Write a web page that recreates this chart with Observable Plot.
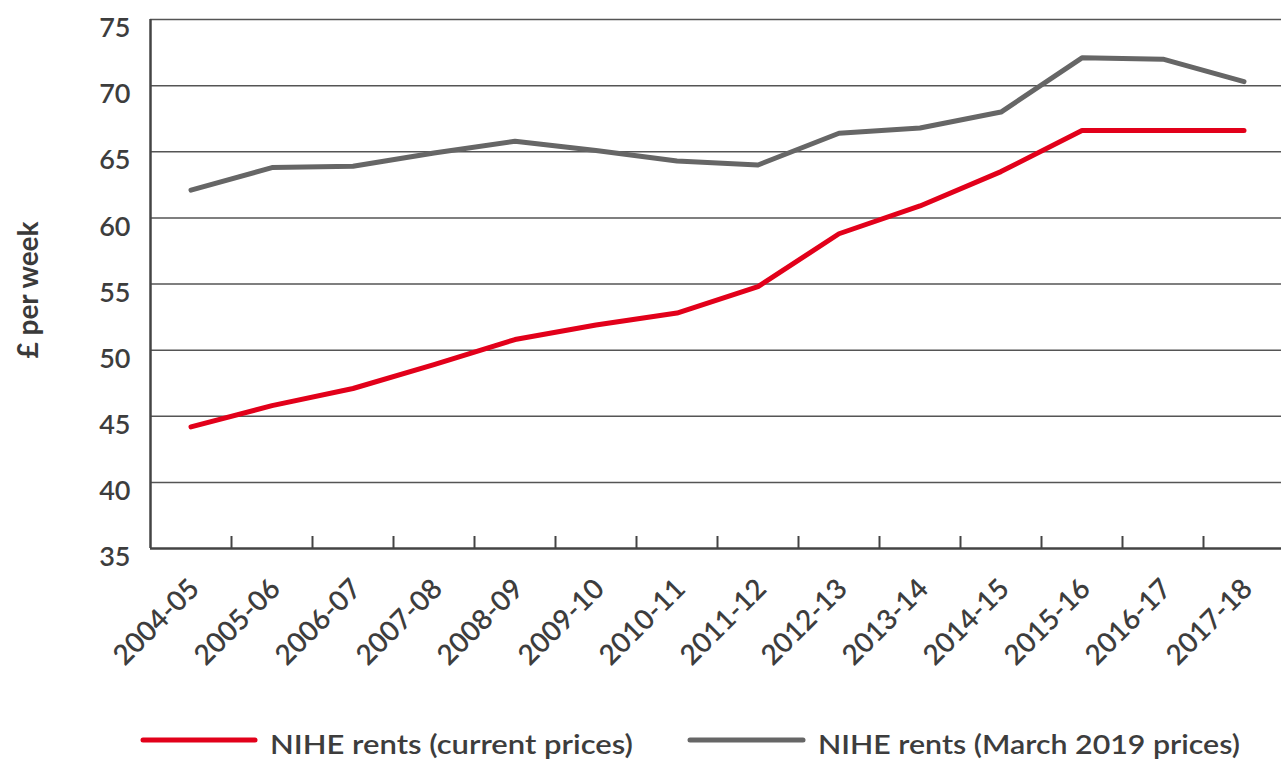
<!DOCTYPE html>
<html>
<head>
<meta charset="utf-8">
<script src="https://cdn.jsdelivr.net/npm/d3@7"></script>
<script src="https://cdn.jsdelivr.net/npm/@observablehq/plot@0.6"></script>
<style>
  html, body { margin: 0; padding: 0; background: #fff; }
  #chart svg { display: block; }
</style>
</head>
<body>
<div id="chart"></div>
<script>
const years = ["2004-05","2005-06","2006-07","2007-08","2008-09","2009-10","2010-11","2011-12","2012-13","2013-14","2014-15","2015-16","2016-17","2017-18"];
const currentPrices = [44.2, 45.8, 47.1, 48.9, 50.8, 51.9, 52.8, 54.8, 58.8, 60.9, 63.5, 66.6, 66.6, 66.6];
const march2019Prices = [62.1, 63.8, 63.9, 64.9, 65.8, 65.1, 64.3, 64.0, 66.4, 66.8, 68.0, 72.1, 72.0, 70.3];
const yTicks = [35, 40, 45, 50, 55, 60, 65, 70, 75];
const seriesNames = ["NIHE rents (current prices)", "NIHE rents (March 2019 prices)"];
const seriesColors = ["#e2001a", "#666666"];
const yLabel = "£ per week";

const W = 1281, H = 700, mT = 19, mB = 152, mL = 150;
const plotH = H - mT - mB;

const rows = [];
years.forEach((yr, i) => {
  rows.push({i, year: yr, value: currentPrices[i], series: seriesNames[0]});
  rows.push({i, year: yr, value: march2019Prices[i], series: seriesNames[1]});
});
const boundaries = years.slice(1).map((d, i) => i + 0.5);

const chart = Plot.plot({
  width: W, height: H,
  marginLeft: mL, marginRight: 0, marginTop: mT, marginBottom: mB,
  x: {domain: [-0.5, years.length - 0.5], range: [mL, mL + 81 * years.length], axis: null},
  y: {domain: [35, 75], axis: null},
  color: {domain: seriesNames, range: seriesColors},
  style: {fontFamily: "Lato, sans-serif", fontSize: "27px", color: "#3d3d3d", background: "white", overflow: "visible"},
  marks: [
    Plot.ruleY(yTicks.filter(d => d > 35), {stroke: "#555", strokeWidth: 1.5}),
    Plot.ruleY([35], {stroke: "#444", strokeWidth: 2.5}),
    Plot.ruleX([-0.5], {stroke: "#444", strokeWidth: 2.5}),
    Plot.ruleX(boundaries, {x: d => d, stroke: "#444", strokeWidth: 2, insetTop: plotH - 12}),
    Plot.axisY({ticks: yTicks, tickSize: 0, tickPadding: 20, dy: 9, label: null, fill: "#3d3d3d", fontWeight: 600}),
    Plot.text(years, {x: (d, i) => i, text: d => d, frameAnchor: "bottom", rotate: -45, textAnchor: "end", lineAnchor: "bottom", dx: 10, dy: 42, fill: "#3d3d3d", fontSize: 28, fontWeight: 600}),
    Plot.text([yLabel], {frameAnchor: "left", textAnchor: "middle", dx: -121, dy: 6, rotate: -90, fontWeight: "bold", fontSize: 28, fill: "#3a3a3a"}),
    Plot.line(rows, {x: "i", y: "value", z: "series", stroke: "series", strokeWidth: 5, strokeLinecap: "round", strokeLinejoin: "round"})
  ]
});
document.getElementById("chart").appendChild(chart);

// Legend below the chart
const legend = d3.create("svg").attr("width", W).attr("height", 59).style("display", "block");
const legendItems = [
  {x1: 143, x2: 255, tx: 270, tw: 363},
  {x1: 690, x2: 803, tx: 818, tw: 422}
];
seriesNames.forEach((name, k) => {
  const it = legendItems[k];
  legend.append("line").attr("x1", it.x1).attr("x2", it.x2).attr("y1", 40).attr("y2", 40)
    .attr("stroke", seriesColors[k]).attr("stroke-width", 5).attr("stroke-linecap", "round");
  legend.append("text").attr("x", it.tx).attr("y", 54).text(name)
    .attr("font-family", "Lato, sans-serif").attr("font-size", 27).attr("font-weight", 600).attr("fill", "#3d3d3d")
    .attr("textLength", it.tw).attr("lengthAdjust", "spacingAndGlyphs");
});
document.body.appendChild(legend.node());
</script>
</body>
</html>
